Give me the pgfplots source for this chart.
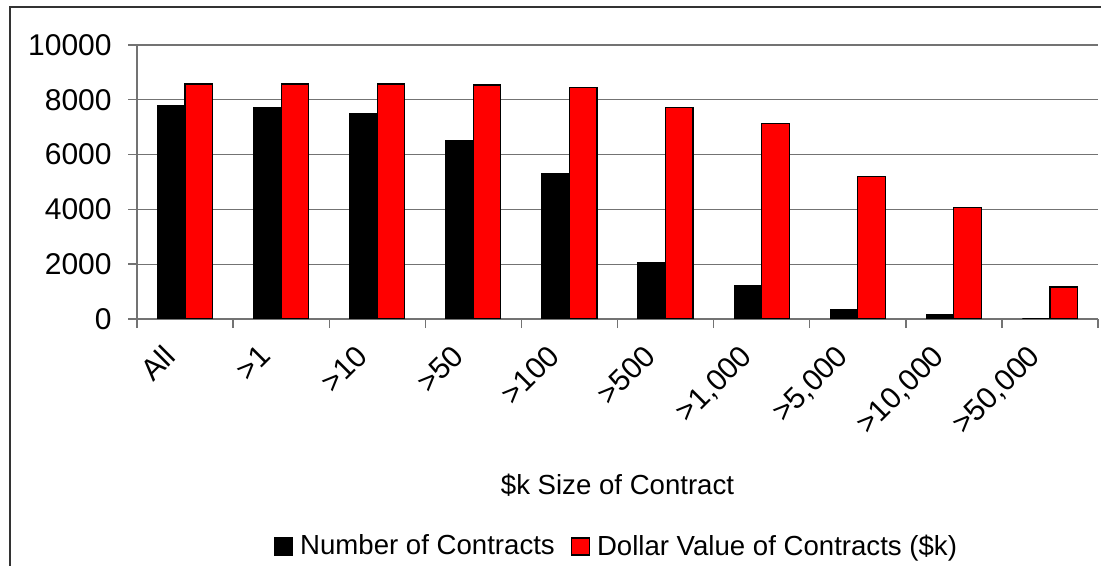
\documentclass[border=0pt]{standalone}
\usepackage{fontspec}
\setmainfont{Liberation Sans}
\usepackage{pgfplots}
\pgfplotsset{compat=1.18}
\newcommand{\chartfont}{\fontsize{13.8}{16}\selectfont}
\newcommand{\tickfont}{\fontsize{15}{17}\selectfont}

\begin{document}
\begin{tikzpicture}
\begin{axis}[
  scale only axis, width=480.5pt, height=137pt,
  ybar=0pt, bar width=13.75pt,
  xmin=-0.5, xmax=9.5, ymin=0, ymax=10000,
  axis x line*=bottom, axis y line*=left,
  axis line style={black!55, line width=0.7pt},
  tick align=outside, major tick length=4.5pt,
  tick style={black!55, line width=0.7pt},
  ymajorgrids, grid style={black!55, line width=0.6pt},
  ytick={0,2000,...,10000}, scaled y ticks=false,
  xtick={-0.5,0.5,...,9.5},
  xticklabels={All,>1,>10,>50,>100,>500,{>1,000},{>5,000},{>10,000},{>50,000},{}},
  font=\chartfont,
  tick label style={font=\tickfont},
  /pgf/number format/assume math mode=true,
  /pgf/number format/1000 sep={},
  yticklabel style={anchor=east, inner sep=0pt, xshift=-8pt},
  xticklabel style={inner sep=0pt, xshift=12.5pt, yshift=-7.5pt, rotate=45, anchor=north east},
  xlabel={\$k Size of Contract},
  xlabel style={at={(axis description cs:0.5,-0.6423)}, anchor=base, inner sep=0pt},
  legend style={at={(axis description cs:0.5,-0.83)}, anchor=center, draw=none, fill=none,
    legend columns=2, font=\chartfont,
    /tikz/every odd column/.append style={column sep=1.5pt},
    /tikz/every even column/.append style={column sep=6pt}},
]
\addplot[fill=black, draw=black, line width=0.6pt,
  legend image code/.code={\draw[fill=black,draw=black] (0pt,-4.25pt) rectangle (9pt,4.25pt);}]
  coordinates {(0,7800) (1,7710) (2,7510) (3,6500) (4,5320) (5,2055) (6,1215) (7,340) (8,170) (9,0)};
\addplot[fill=red, draw=black, line width=0.6pt,
  legend image code/.code={\draw[fill=red,draw=black] (0pt,-4.25pt) rectangle (9pt,4.25pt);}]
  coordinates {(0,8580) (1,8580) (2,8580) (3,8540) (4,8455) (5,7710) (6,7130) (7,5195) (8,4060) (9,1170)};
\legend{Number of Contracts, Dollar Value of Contracts (\$k)}
\coordinate (bbll) at (axis description cs:-0.14256,-0.90146);
\coordinate (bbur) at (axis description cs:1.00312,1.16423);
\coordinate (frl) at (axis description cs:-0.13215,-1.0);
\coordinate (frt) at (axis description cs:-0.13215,1.13869);
\coordinate (frr) at (axis description cs:1.05,1.13869);
\end{axis}
\draw[black!80, line width=0.8pt] (frl) -- (frt) -- (frr);
\pgfresetboundingbox
\path (bbll) rectangle (bbur);
\end{tikzpicture}
\end{document}
